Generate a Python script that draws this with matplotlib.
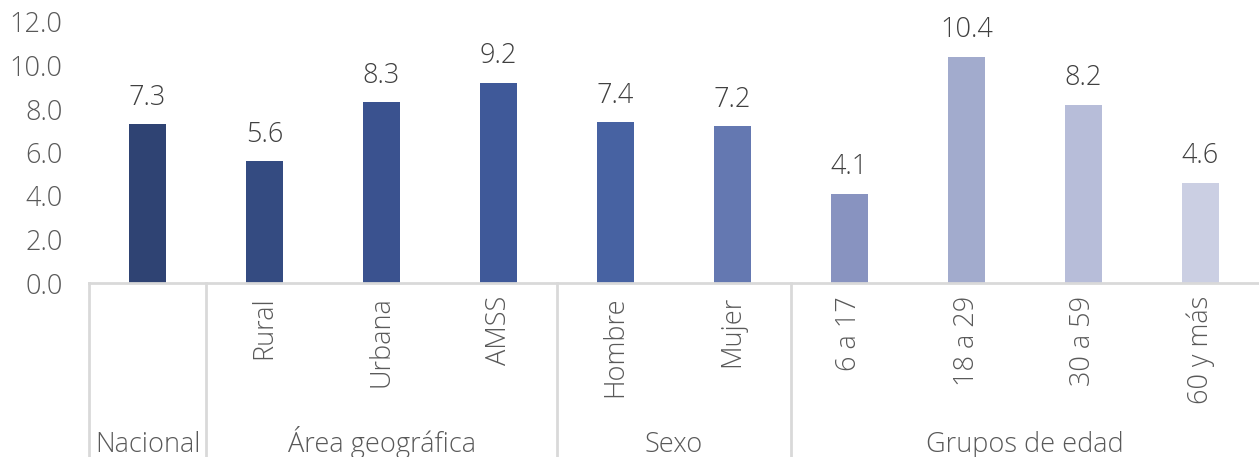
import matplotlib.pyplot as plt
from matplotlib.transforms import blended_transform_factory

categories = ["Nacional", "Rural", "Urbana", "AMSS", "Hombre", "Mujer",
              "6 a 17", "18 a 29", "30 a 59", "60 y más"]
values = [7.3, 5.6, 8.3, 9.2, 7.4, 7.2, 4.1, 10.4, 8.2, 4.6]
groups = ["Nacional", "Área geográfica", "Sexo", "Grupos de edad"]
group_sizes = [1, 3, 2, 4]
colors = ["#2f4373", "#344b81", "#3a528f", "#3f5999", "#4762a2", "#6478b1",
          "#8893c0", "#a2abcd", "#b7bdd9", "#cbcfe3"]

plt.rcParams['font.family'] = ['Open Sans', 'DejaVu Sans']
plt.rcParams['font.weight'] = 'light'
text_color = '#595959'
line_color = '#d9d9d9'
fs = 19.5

W, H = 1259, 457
fig = plt.figure(figsize=(W / 100, H / 100), dpi=100)
ax = fig.add_axes([89 / W, (H - 283) / H, 1170 / W, 261 / H])

x = list(range(len(categories)))
ax.bar(x, values, width=0.31, color=colors, zorder=2)
ax.set_xlim(-0.5, len(categories) - 0.5)
ax.set_ylim(0, 12)
yt = [0, 2, 4, 6, 8, 10, 12]
ax.set_yticks(yt)
ax.set_yticklabels([f"{v:.1f}" for v in yt], fontsize=fs, color=text_color)
ax.tick_params(axis='y', length=0, pad=19)
ax.set_xticks([])
for s in ['top', 'right', 'left']:
    ax.spines[s].set_visible(False)
ax.spines['bottom'].set_color(line_color)
ax.spines['bottom'].set_linewidth(2)

for xi, v in zip(x, values):
    ax.annotate(f"{v:.1f}", (xi, v), xytext=(0, 9), textcoords='offset points',
                ha='center', va='bottom', fontsize=fs, color='#404040')

# category labels (rotated) and group separators below the axis
tr = blended_transform_factory(ax.transData, fig.transFigure)
for xi, c in zip(x, categories):
    if c == "Nacional":
        continue
    ax.text(xi, (H - 296) / H, c, transform=tr, rotation=90, ha='center',
            va='top', fontsize=fs, color=text_color)

start = 0
for g, n in zip(groups, group_sizes):
    left = start - 0.5
    right = start + n - 0.5
    ax.plot([left, left], [(H - 283) / H, 0], transform=tr, color=line_color,
            lw=2, clip_on=False)
    ax.text((left + right) / 2, 5 / H, g, transform=tr, ha='center',
            va='baseline', fontsize=fs, color=text_color)
    start += n

fig.savefig("out.png", dpi=100)
